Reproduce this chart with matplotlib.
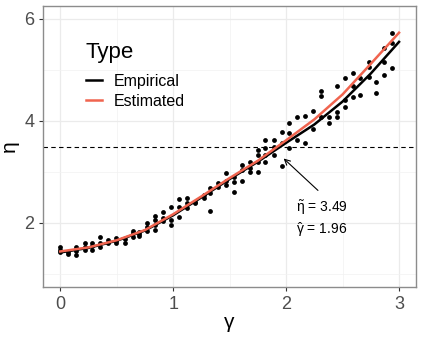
import numpy as np
import matplotlib.pyplot as plt

plt.rcParams['font.family'] = ['Liberation Sans', 'DejaVu Sans']
plt.rcParams['mathtext.fontset'] = 'custom'
plt.rcParams['mathtext.rm'] = 'Liberation Sans'
plt.rcParams['mathtext.it'] = 'Liberation Sans'

obs_x = [0.00, 0.00, 0.00, 0.07, 0.07, 0.14, 0.14, 0.14, 0.22, 0.22, 0.22,
         0.28, 0.28, 0.28, 0.35, 0.35, 0.35, 0.42, 0.42, 0.49, 0.49, 0.49,
         0.57, 0.57, 0.64, 0.64, 0.64, 0.70, 0.70, 0.70, 0.77, 0.77, 0.77,
         0.84, 0.84, 0.84, 0.84, 0.91, 0.91, 0.91, 0.98, 0.98, 0.98,
         1.05, 1.05, 1.05, 1.12, 1.12, 1.12, 1.19, 1.19, 1.27, 1.27,
         1.33, 1.33, 1.33, 1.40, 1.40, 1.47, 1.47, 1.47, 1.54, 1.54, 1.54,
         1.61, 1.61, 1.61, 1.68, 1.68, 1.68, 1.75, 1.75, 1.75, 1.75,
         1.81, 1.81, 1.81, 1.81, 1.89, 1.89, 1.89, 1.96, 1.96, 1.96,
         2.03, 2.03, 2.03, 2.10, 2.10, 2.17, 2.17, 2.24, 2.24,
         2.31, 2.31, 2.31, 2.38, 2.38, 2.45, 2.45, 2.45, 2.52, 2.52, 2.52,
         2.59, 2.59, 2.59, 2.65, 2.65, 2.73, 2.73, 2.73, 2.80, 2.80,
         2.87, 2.87, 2.87, 2.94, 2.94, 2.94]
obs_y = [1.53, 1.47, 1.43, 1.43, 1.39, 1.53, 1.45, 1.37, 1.61, 1.52, 1.47,
         1.61, 1.54, 1.47, 1.73, 1.61, 1.53, 1.67, 1.61, 1.71, 1.64, 1.61,
         1.69, 1.61, 1.84, 1.80, 1.73, 1.82, 1.78, 1.75, 2.00, 1.92, 1.84,
         2.14, 2.06, 1.96, 1.86, 2.22, 2.10, 2.04, 2.31, 2.06, 1.96,
         2.47, 2.31, 2.12, 2.49, 2.39, 2.29, 2.41, 2.39, 2.55, 2.49,
         2.69, 2.59, 2.24, 2.78, 2.71, 2.98, 2.82, 2.75, 2.90, 2.80, 2.61,
         3.14, 3.04, 2.82, 3.20, 3.08, 3.00, 3.43, 3.33, 3.20, 3.00,
         3.63, 3.47, 3.33, 3.20, 3.63, 3.49, 3.33, 3.78, 3.57, 3.12,
         3.96, 3.76, 3.47, 4.08, 3.63, 4.10, 3.57, 4.20, 3.84,
         4.59, 4.49, 4.08, 4.08, 3.96, 4.69, 4.18, 4.08, 4.84, 4.41, 4.27,
         4.94, 4.69, 4.47, 4.84, 4.51, 5.16, 5.06, 4.86, 4.76, 4.55,
         5.43, 5.16, 4.90, 5.73, 5.53, 5.04]

# Кривые
curve_x = [0.0, 0.25, 0.5, 0.75, 1.0, 1.25, 1.5, 1.75, 2.0, 2.25, 2.5, 2.75, 3.0]
empirical_y = [1.42, 1.51, 1.65, 1.85, 2.15, 2.50, 2.86, 3.20, 3.57, 3.93, 4.38, 4.93, 5.55]
estimated_y = [1.44, 1.52, 1.66, 1.86, 2.17, 2.52, 2.88, 3.22, 3.62, 4.03, 4.52, 5.12, 5.73]

eta_tilde = 3.49
gamma_hat = 1.96

fig = plt.figure(figsize=(4.23, 3.38), dpi=100)
ax = fig.add_axes([0.1024, 0.1512, 0.8810, 0.8305])

ax.scatter(obs_x, obs_y, s=12, color='black', zorder=3, linewidths=0)
ax.plot(curve_x, empirical_y, color='black', lw=1.8, label='Empirical', zorder=4)
ax.plot(curve_x, estimated_y, color='#F0644F', lw=1.8, label='Estimated', zorder=5)
ax.axhline(eta_tilde, color='black', lw=0.8, linestyle=(0, (4, 3)), zorder=2)

# Стрелка и подпись
ax.annotate('', xy=(gamma_hat, 3.30), xytext=(2.30, 2.60),
            arrowprops=dict(arrowstyle='->', color='black', lw=0.8))
ax.text(2.09, 2.29, r'$\mathrm{\tilde{\eta}}$ = %.2f' % eta_tilde, fontsize=10, va='center')
ax.text(2.09, 1.87, r'$\mathrm{\hat{\gamma}}$ = %.2f' % gamma_hat, fontsize=10, va='center')

ax.set_xlim(-0.15, 3.15)
ax.set_ylim(0.745, 6.25)
ax.set_xticks([0, 1, 2, 3])
ax.set_yticks([2, 4, 6])
ax.set_xticks([0.5, 1.5, 2.5], minor=True)
ax.set_yticks([1, 3, 5], minor=True)
ax.grid(which='major', color='#EBEBEB', lw=0.9)
ax.grid(which='minor', color='#F2F2F2', lw=0.5)
ax.set_axisbelow(True)
ax.tick_params(which='major', labelsize=13, labelcolor='#4D4D4D', color='#333333',
               length=3, width=0.8)
ax.tick_params(which='minor', length=0)
for sp in ax.spines.values():
    sp.set_color('#8C8C8C')
    sp.set_linewidth(1.0)

ax.set_xlabel('γ', fontsize=15, labelpad=0)
ax.set_ylabel('η', fontsize=15, labelpad=4)

leg = ax.legend(title='Type', loc='upper left', bbox_to_anchor=(0.075, 0.922),
                frameon=False, fontsize=11.5, title_fontsize=16,
                handlelength=1.0, handletextpad=0.75, labelspacing=0.3)
leg._legend_box.align = 'left'
leg._legend_box.sep = 7.5

plt.savefig('out.png', dpi=100)
